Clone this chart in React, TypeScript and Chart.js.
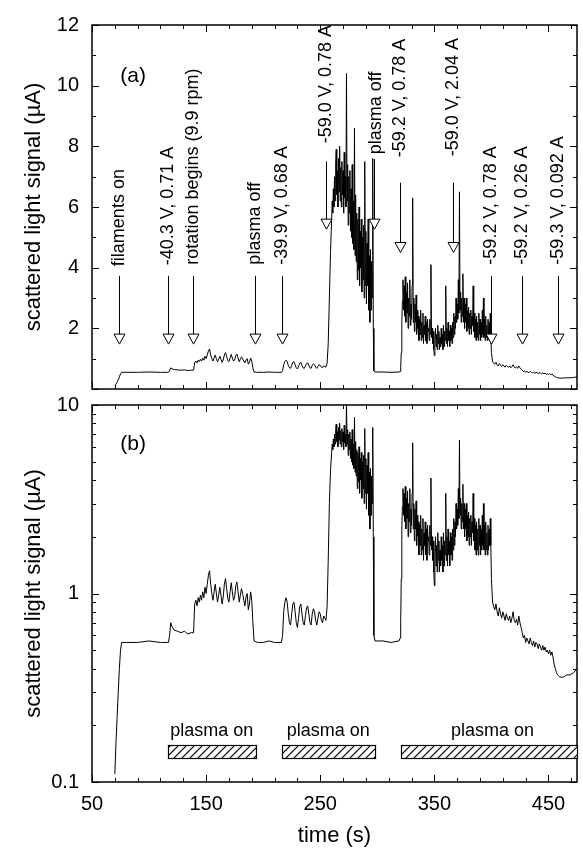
import React, { useEffect, useRef } from "react";
import { Chart, registerables } from "chart.js";

Chart.register(...registerables);

const FONT = '"Liberation Sans", Arial, Helvetica, sans-serif';

// ---- measured signal: time (s) ----
const time: number[] = [
  70, 71, 72, 73, 74, 75, 76, 80, 90, 100, 110, 117,
  118, 119, 120, 122, 125, 128, 131, 134, 137, 139,
  140, 141, 142, 143, 144, 145, 146, 147, 148, 149,
  150, 151, 152, 153, 154, 155, 156, 157, 158, 159,
  160, 161, 162, 163, 164, 165, 166, 167, 168, 169,
  170, 171, 172, 173, 174, 175, 176, 177, 178, 179,
  180, 181, 182, 183, 184, 185, 186, 187, 188, 189,
  190, 191, 192,
  195, 200, 205, 210, 216,
  217, 218, 219, 220, 221, 222, 223, 224, 225, 226,
  227, 228, 229, 230, 231, 232, 233, 234, 235, 236,
  237, 238, 239, 240, 241, 242, 243, 244, 245, 246,
  247, 248, 249, 250, 251, 252, 253, 254, 255,
  256, 257, 258, 259, 260,
  260.5, 261, 261.5, 262, 262.5, 263, 263.5, 264, 264.5, 265,
  265.5, 266, 266.5, 267, 267.5, 268, 268.5, 269, 269.5, 270,
  270.5, 271, 271.5, 272, 272.5, 273, 273.5, 274, 274.5, 275,
  275.5, 276, 276.5, 277, 277.5, 278, 278.5, 279, 279.5, 280,
  280.5, 281, 281.5, 282, 282.5, 283, 283.5, 284, 284.5, 285,
  285.5, 286, 286.5, 287, 287.5, 288, 288.5, 289, 289.5, 290,
  290.5, 291, 291.5, 292, 292.5, 293, 293.5, 294, 294.5, 295,
  295.5, 296, 296.5, 297,
  298, 305, 312, 319,
  320, 320.5, 321, 321.5, 322, 322.5, 323, 323.5, 324, 324.5,
  325, 325.5, 326, 326.5, 327, 327.5, 328, 328.5, 329, 329.5,
  330, 330.5, 331, 331.5, 332, 332.5, 333, 333.5, 334, 334.5,
  335, 335.5, 336, 336.5, 337, 337.5, 338, 338.5, 339, 339.5,
  340, 340.5, 341, 341.5, 342, 342.5, 343, 343.5, 344, 344.5,
  345, 345.5, 346, 346.5, 347, 347.5, 348, 348.5, 349, 349.5,
  350, 350.5, 351, 351.5, 352, 352.5, 353, 353.5, 354, 354.5,
  355, 355.5, 356, 356.5, 357, 357.5, 358, 358.5, 359, 359.5,
  360, 360.5, 361, 361.5, 362, 362.5, 363, 363.5, 364, 364.5,
  365, 365.5, 366, 366.5, 367, 367.5, 368, 368.5, 369, 369.5,
  370, 370.5, 371, 371.5, 372, 372.5, 373, 373.5, 374, 374.5,
  375, 375.5, 376, 376.5, 377, 377.5, 378, 378.5, 379, 379.5,
  380, 380.5, 381, 381.5, 382, 382.5, 383, 383.5, 384, 384.5,
  385, 385.5, 386, 386.5, 387, 387.5, 388, 388.5, 389, 389.5,
  390, 390.5, 391, 391.5, 392, 392.5, 393, 393.5, 394, 394.5,
  395, 395.5, 396, 396.5, 397, 397.5, 398, 398.5, 399, 399.5,
  400, 401,
  402, 403, 404, 405, 406, 407, 408, 409, 410, 411,
  412, 413, 414, 415, 416, 417, 418, 419, 420, 421,
  422, 423, 424, 425, 426, 427, 428, 429, 430, 431,
  432, 433, 434, 435, 436, 437, 438, 439, 440, 441,
  442, 443, 444, 445, 446, 447, 448, 449, 450, 451,
  452, 453, 454, 455, 456, 457, 458,
  460, 463, 466, 469, 472, 475,
];

// scattered light signal (µA)
const signal: number[] = [
  0.11, 0.16, 0.22, 0.3, 0.4, 0.5, 0.55, 0.55, 0.55, 0.56, 0.55, 0.55,
  0.6, 0.7, 0.67, 0.64, 0.63, 0.62, 0.63, 0.61, 0.62, 0.62,
  0.88, 0.92, 0.86, 0.95, 0.9, 0.98, 0.92, 1.02, 0.95, 1.08,
  1.0, 1.12, 1.25, 1.32, 1.12, 1.0, 0.92, 1.02, 1.12, 1.0,
  0.9, 0.98, 1.08, 0.98, 0.88, 0.96, 1.12, 1.2, 1.06, 0.94,
  0.9, 1.02, 1.14, 1.02, 0.92, 0.96, 1.1, 1.15, 1.02, 0.9,
  0.98, 1.06, 1.0, 0.92, 0.86, 0.96, 1.0, 0.82, 0.88, 1.02,
  0.92, 0.7, 0.56,
  0.55, 0.55, 0.56, 0.55, 0.55,
  0.6, 0.8, 0.9, 0.95, 0.9, 0.78, 0.7, 0.68, 0.78, 0.88,
  0.9, 0.8, 0.7, 0.66, 0.74, 0.85, 0.88, 0.78, 0.7, 0.68,
  0.76, 0.84, 0.86, 0.78, 0.7, 0.68, 0.78, 0.83, 0.8, 0.72,
  0.68, 0.74, 0.8, 0.78, 0.72, 0.7, 0.76, 0.74, 0.72,
  0.85, 1.5, 3.0, 4.5, 5.6,
  6.2, 5.8, 6.6, 6.0, 7.0, 6.2, 7.4, 7.9, 6.4, 7.2,
  6.0, 7.6, 6.5, 8.0, 6.2, 7.3, 6.0, 7.5, 6.4, 7.2,
  5.8, 7.8, 6.3, 7.0, 6.0, 10.4, 6.2, 7.4, 5.4, 7.0,
  5.8, 7.2, 5.2, 6.6, 5.0, 7.4, 4.8, 6.2, 4.6, 8.6,
  4.4, 6.4, 4.2, 5.8, 3.6, 5.6, 3.9, 6.0, 3.4, 5.2,
  4.0, 5.6, 3.2, 5.0, 3.6, 5.4, 3.0, 7.5, 3.4, 5.2,
  2.8, 4.8, 3.4, 5.6, 2.6, 4.4, 2.2, 4.6, 2.6, 4.2,
  3.0, 7.6, 2.0, 0.6,
  0.56, 0.56, 0.55, 0.56,
  0.58, 0.7, 1.2, 2.2, 2.9, 3.6, 2.6, 3.4, 2.4, 3.7,
  2.2, 3.2, 2.5, 3.5, 2.0, 3.0, 2.4, 3.6, 2.1, 2.8,
  2.3, 3.4, 6.3, 2.2, 3.0, 1.9, 2.8, 2.2, 3.1, 1.8,
  2.6, 2.0, 2.4, 1.6, 2.3, 1.8, 2.6, 1.6, 2.2, 1.7,
  2.5, 1.5, 2.1, 1.8, 2.4, 1.6, 2.2, 1.5, 2.3, 1.9,
  2.0, 1.6, 2.3, 1.8, 4.1, 1.7, 2.0, 1.5, 1.9, 1.3,
  1.1, 1.6, 2.0, 1.4, 1.8, 1.3, 2.1, 1.5, 1.9, 1.3,
  1.7, 1.4, 2.0, 1.5, 1.8, 1.3, 2.1, 1.4, 1.9, 1.6,
  3.4, 1.5, 2.0, 1.4, 2.2, 1.6, 1.9, 1.4, 2.1, 1.6,
  2.0, 1.5, 2.2, 1.7, 2.5, 1.8, 2.4, 2.0, 3.0, 2.2,
  2.8, 2.3, 3.6, 2.5, 6.5, 2.6, 3.2, 2.2, 3.0, 2.4,
  3.8, 2.2, 3.0, 2.0, 2.8, 2.2, 3.0, 1.9, 2.6, 2.0,
  2.7, 1.8, 2.5, 2.0, 2.6, 1.8, 2.4, 2.1, 3.4, 1.9,
  2.5, 1.7, 2.3, 1.6, 2.4, 1.7, 2.2, 1.6, 2.5, 1.8,
  2.3, 1.6, 2.2, 1.7, 2.6, 1.8, 3.0, 1.7, 2.3, 1.6,
  2.4, 1.7, 2.1, 1.6, 2.3, 1.7, 2.2, 1.8, 2.5, 1.8,
  1.2, 0.9,
  0.85, 0.82, 0.88, 0.8, 0.76, 0.84, 0.78, 0.74, 0.8, 0.76,
  0.72, 0.78, 0.74, 0.72, 0.76, 0.7, 0.74, 0.8, 0.72, 0.7,
  0.73, 0.68, 0.76, 0.7, 0.66, 0.62, 0.58, 0.6, 0.55, 0.58,
  0.56, 0.54, 0.58, 0.55, 0.53, 0.56, 0.52, 0.55, 0.54, 0.51,
  0.54, 0.52, 0.5, 0.53, 0.5, 0.52, 0.49, 0.5, 0.48, 0.5,
  0.47, 0.49, 0.46, 0.42, 0.4, 0.38, 0.37,
  0.36, 0.36, 0.37, 0.37, 0.38, 0.4,
];

// ---- axis tick labels ----
const xTickLabels = [50, 150, 250, 350, 450];
const yTickLabelsA = [2, 4, 6, 8, 10, 12];
const yTickLabelsB = [0.1, 1, 10];

// ---- event annotations (panel a) ----
const annLabels = [
  "filaments on",
  "-40.3 V, 0.71 A",
  "rotation begins (9.9 rpm)",
  "plasma off",
  "-39.9 V, 0.68 A",
  "-59.0 V, 0.78 A",
  "plasma off",
  "-59.2 V, 0.78 A",
  "-59.0 V, 2.04 A",
  "-59.2 V, 0.78 A",
  "-59.2 V, 0.26 A",
  "-59.3 V, 0.092 A",
];
const annTime = [74, 116.6, 138.5, 192.8, 216.5, 255, 296.7, 320, 366, 399.6, 426.8, 458];
const annTextTime = [74, 116.6, 138.5, 192.8, 216.5, 255.5, 298.5, 320, 366, 399.6, 426.8, 458];
const annTextBase = [4.05, 4.08, 4.1, 4.1, 4.1, 8.1, 7.74, 7.64, 7.67, 4.1, 4.1, 4.1];
const annArrowTop = [3.73, 3.73, 3.73, 3.73, 3.73, 7.5, 7.58, 6.8, 6.8, 3.73, 3.73, 3.73];
const annArrowTip = [1.48, 1.48, 1.48, 1.48, 1.48, 5.27, 5.27, 4.5, 4.5, 1.48, 1.48, 1.48];

// ---- plasma-on periods (panel b) ----
const plasmaStart = [116.6, 216.5, 320.8];
const plasmaEnd = [193.7, 298, 475];
const plasmaLabelTime = [155, 257, 401];
const plasmaBarLow = 0.134;
const plasmaBarHigh = 0.158;
const plasmaLabelY = 0.176;

// ---- panel labels ----
const panelLabels = ["(a)", "(b)"];
const panelLabelTime = 86;
const panelLabelY = [10.3, 6.2];

const points = time.map((t, i) => ({ x: t, y: signal[i] }));

function drawFrame(chart: any, ys: any, minor: number[], major: number[]) {
  const { ctx, chartArea: a } = chart;
  const xs = chart.scales.x;
  ctx.save();
  ctx.strokeStyle = "#000";
  ctx.lineWidth = 1;
  ctx.beginPath();
  for (let t = 50; t <= 475; t += 20) {
    const px = Math.round(xs.getPixelForValue(t)) + 0.5;
    const len = (t - 50) % 100 === 0 ? 7 : 4;
    ctx.moveTo(px, a.top);
    ctx.lineTo(px, a.top + len);
    ctx.moveTo(px, a.bottom);
    ctx.lineTo(px, a.bottom - len);
  }
  const yTick = (v: number, len: number) => {
    const py = Math.round(ys.getPixelForValue(v)) + 0.5;
    ctx.moveTo(a.left, py);
    ctx.lineTo(a.left + len, py);
    ctx.moveTo(a.right, py);
    ctx.lineTo(a.right - len, py);
  };
  minor.forEach((v) => yTick(v, 4));
  major.forEach((v) => yTick(v, 7));
  ctx.stroke();
  ctx.lineWidth = 1.5;
  ctx.strokeRect(a.left, a.top, a.right - a.left, a.bottom - a.top);
  ctx.restore();
}

const minorA: number[] = [];
const majorA: number[] = [];
for (let v = 0; v <= 12; v++) (v % 2 === 0 ? majorA : minorA).push(v);
const minorB: number[] = [];
const majorB: number[] = [0.1, 1, 10];
for (const d of [0.1, 1]) for (let m = 2; m <= 9; m++) minorB.push(m * d);

const topDecor = {
  id: "topDecor",
  afterDraw(chart: any) {
    const ctx = chart.ctx;
    const xs = chart.scales.x;
    const ys = chart.scales.y;
    drawFrame(chart, ys, minorA, majorA);
    ctx.save();
    ctx.strokeStyle = "#000";
    ctx.lineWidth = 1;
    ctx.font = `18px ${FONT}`;
    annLabels.forEach((lab, i) => {
      const ax = Math.round(xs.getPixelForValue(annTime[i])) + 0.5;
      const top = ys.getPixelForValue(annArrowTop[i]);
      const tip = ys.getPixelForValue(annArrowTip[i]);
      ctx.beginPath();
      ctx.moveTo(ax, top);
      ctx.lineTo(ax, tip - 10);
      ctx.stroke();
      ctx.beginPath();
      ctx.moveTo(ax - 5.5, tip - 10);
      ctx.lineTo(ax + 5.5, tip - 10);
      ctx.lineTo(ax, tip);
      ctx.closePath();
      ctx.fillStyle = "#fff";
      ctx.fill();
      ctx.stroke();
      ctx.fillStyle = "#000";
      const tx = xs.getPixelForValue(annTextTime[i]);
      const ty = ys.getPixelForValue(annTextBase[i]);
      ctx.save();
      ctx.translate(tx, ty);
      ctx.rotate(-Math.PI / 2);
      ctx.textAlign = "left";
      ctx.textBaseline = "middle";
      ctx.fillText(lab, 0, 0);
      ctx.restore();
    });
    ctx.font = `21px ${FONT}`;
    ctx.textAlign = "center";
    ctx.textBaseline = "middle";
    ctx.fillStyle = "#000";
    ctx.fillText(panelLabels[0], xs.getPixelForValue(panelLabelTime), ys.getPixelForValue(panelLabelY[0]));
    ctx.restore();
  },
};

function makeHatch(ctx: CanvasRenderingContext2D) {
  const c = document.createElement("canvas");
  c.width = 8;
  c.height = 8;
  const g = c.getContext("2d")!;
  g.fillStyle = "#fff";
  g.fillRect(0, 0, 8, 8);
  g.strokeStyle = "#000";
  g.lineWidth = 1.2;
  g.beginPath();
  g.moveTo(0, 8);
  g.lineTo(8, 0);
  g.moveTo(-2, 2);
  g.lineTo(2, -2);
  g.moveTo(6, 10);
  g.lineTo(10, 6);
  g.stroke();
  return ctx.createPattern(c, "repeat");
}

const bottomDecor = {
  id: "bottomDecor",
  afterDraw(chart: any) {
    const ctx = chart.ctx;
    const xs = chart.scales.x;
    const ys = chart.scales.y;
    drawFrame(chart, ys, minorB, majorB);
    ctx.save();
    const pat = makeHatch(ctx);
    const yTop = Math.round(ys.getPixelForValue(plasmaBarHigh)) + 0.5;
    const yBot = Math.round(ys.getPixelForValue(plasmaBarLow)) + 0.5;
    ctx.lineWidth = 1.2;
    ctx.strokeStyle = "#000";
    ctx.font = `18px ${FONT}`;
    ctx.textAlign = "center";
    ctx.textBaseline = "alphabetic";
    plasmaStart.forEach((s, i) => {
      const x0 = Math.round(xs.getPixelForValue(s)) + 0.5;
      const x1 = Math.round(xs.getPixelForValue(plasmaEnd[i])) + 0.5;
      ctx.fillStyle = pat || "#fff";
      ctx.fillRect(x0, yTop, x1 - x0, yBot - yTop);
      ctx.strokeRect(x0, yTop, x1 - x0, yBot - yTop);
      ctx.fillStyle = "#000";
      ctx.fillText("plasma on", xs.getPixelForValue(plasmaLabelTime[i]), ys.getPixelForValue(plasmaLabelY));
    });
    ctx.font = `21px ${FONT}`;
    ctx.textBaseline = "middle";
    ctx.fillText(panelLabels[1], xs.getPixelForValue(panelLabelTime), ys.getPixelForValue(panelLabelY[1]));
    ctx.restore();
  },
};

const tickFont = { size: 20, family: FONT };
const titleFont = { size: 22, family: FONT };

function yAxisCommon(labels: number[]) {
  return {
    afterBuildTicks: (s: any) => {
      s.ticks = labels.map((v) => ({ value: v }));
    },
    ticks: { font: tickFont, color: "#000", padding: 13, autoSkip: false, callback: (v: any) => String(v) },
    grid: { display: false, drawTicks: false },
    border: { display: false },
    title: {
      display: true,
      text: "scattered light signal (µA)",
      font: titleFont,
      color: "#000",
      padding: { top: 21, bottom: 0 },
    },
    afterFit: (s: any) => {
      s.width = 92;
    },
  };
}

export default function App() {
  const refA = useRef<HTMLCanvasElement>(null);
  const refB = useRef<HTMLCanvasElement>(null);

  useEffect(() => {
    Chart.defaults.font.family = FONT;
    Chart.defaults.color = "#000";
    const dataset = () => ({
      data: points,
      borderColor: "#000",
      borderWidth: 1,
      pointRadius: 0,
      tension: 0,
      fill: false,
    });
    const chartA = new Chart(refA.current!, {
      type: "line",
      data: { datasets: [dataset() as any] },
      options: {
        responsive: false,
        animation: false,
        devicePixelRatio: 1,
        events: [],
        layout: { padding: { left: 0, right: 6, top: 20, bottom: 14 } },
        plugins: { legend: { display: false }, tooltip: { enabled: false } },
        scales: {
          x: { type: "linear", min: 50, max: 475, display: false },
          y: { type: "linear", min: 0, max: 12, ...(yAxisCommon(yTickLabelsA) as any) },
        },
      } as any,
      plugins: [topDecor],
    });
    const chartB = new Chart(refB.current!, {
      type: "line",
      data: { datasets: [dataset() as any] },
      options: {
        responsive: false,
        animation: false,
        devicePixelRatio: 1,
        events: [],
        layout: { padding: { left: 0, right: 6, top: 20, bottom: 0 } },
        plugins: { legend: { display: false }, tooltip: { enabled: false } },
        scales: {
          x: {
            type: "linear",
            min: 50,
            max: 475,
            afterBuildTicks: (s: any) => {
              s.ticks = xTickLabels.map((v) => ({ value: v }));
            },
            ticks: { font: tickFont, color: "#000", padding: 10, autoSkip: false, maxRotation: 0, callback: (v: any) => String(v) },
            grid: { display: false, drawTicks: false },
            border: { display: false },
            title: { display: true, text: "time (s)", font: titleFont, color: "#000", padding: { top: 0, bottom: 0 } },
            afterFit: (s: any) => {
              s.height = 67;
            },
          },
          y: { type: "logarithmic", min: 0.1, max: 10, ...(yAxisCommon(yTickLabelsB) as any) },
        },
      } as any,
      plugins: [bottomDecor],
    });
    return () => {
      chartA.destroy();
      chartB.destroy();
    };
  }, []);

  return (
    <div style={{ position: "fixed", left: 0, top: 0, width: 583, height: 849, background: "#fff", overflow: "hidden" }}>
      <canvas ref={refA} width={583} height={414} style={{ position: "absolute", left: 0, top: 0, width: 583, height: 414 }} />
      <canvas ref={refB} width={583} height={469} style={{ position: "absolute", left: 0, top: 380, width: 583, height: 469 }} />
    </div>
  );
}
